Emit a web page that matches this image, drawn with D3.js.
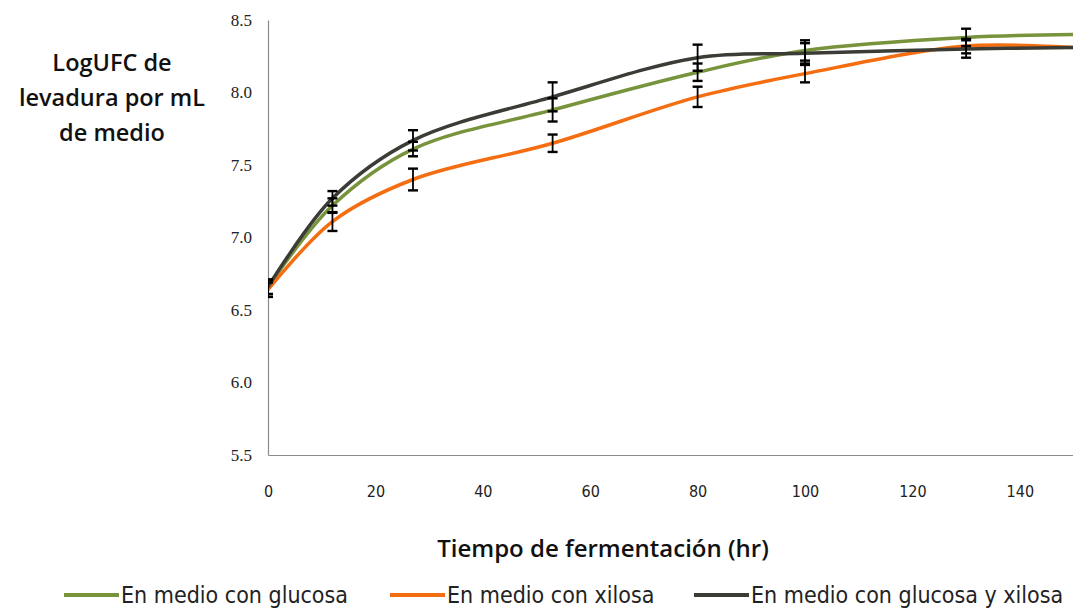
<!DOCTYPE html>
<html>
<head>
<meta charset="utf-8">
<script src="https://cdn.jsdelivr.net/npm/d3@7"></script>
<style>
  html, body { margin: 0; padding: 0; background: #fff; }
  svg { display: block; }
</style>
</head>
<body>
<svg id="chart" width="1073" height="608"></svg>
<script>
// Fermentation time (hr)
const tiempo = [0, 12, 27, 53, 80, 100, 130, 150];

// Log CFU of yeast per mL of medium, per medium
const glucosa       = [6.66, 7.22, 7.61, 7.88, 8.14, 8.29, 8.38, 8.40];
const xilosa        = [6.64, 7.11, 7.40, 7.65, 7.97, 8.13, 8.32, 8.31];
const glucosaXilosa = [6.66, 7.27, 7.67, 7.97, 8.24, 8.27, 8.30, 8.31];

// Standard deviation bars (none shown for the last sample)
const errGlucosa       = [0.05, 0.05, 0.05, 0.08, 0.06, 0.07, 0.06, null];
const errXilosa        = [0.05, 0.065, 0.075, 0.06, 0.07, 0.06, 0.05, null];
const errGlucosaXilosa = [0.05, 0.05, 0.07, 0.10, 0.09, 0.07, 0.06, null];

const yTicks = [5.5, 6.0, 6.5, 7.0, 7.5, 8.0, 8.5];
const xTicks = [0, 20, 40, 60, 80, 100, 120, 140];

const seriesNames = ["En medio con glucosa", "En medio con xilosa", "En medio con glucosa y xilosa"];
const seriesColors = ["#77933c", "#f46d10", "#3c3c36"];

const series = [
  { name: seriesNames[0], color: seriesColors[0], values: glucosa, err: errGlucosa },
  { name: seriesNames[1], color: seriesColors[1], values: xilosa, err: errXilosa },
  { name: seriesNames[2], color: seriesColors[2], values: glucosaXilosa, err: errGlucosaXilosa }
];

const svg = d3.select("#chart");
const plotLeft = 268, plotRight = 1073.5, plotTop = 20, plotBottom = 455;

const x = d3.scaleLinear().domain([0, 150]).range([plotLeft, plotRight]);
const y = d3.scaleLinear().domain([5.5, 8.5]).range([plotBottom, plotTop]);

svg.append("defs").append("clipPath").attr("id", "plot")
  .append("rect").attr("x", plotLeft).attr("y", 0).attr("width", plotRight - plotLeft).attr("height", plotBottom);

// Axes
const yAxis = svg.append("g").attr("transform", `translate(${plotLeft},0)`)
  .call(d3.axisLeft(y).tickValues(yTicks).tickFormat(d3.format(".1f")).tickSize(0).tickPadding(16));
yAxis.select(".domain").attr("stroke", "#8c8c8c").attr("stroke-width", 1.2);
yAxis.selectAll("text").attr("font-family", "'Liberation Serif', serif").attr("font-size", 17).attr("fill", "#222");

const xAxis = svg.append("g").attr("transform", `translate(0,${plotBottom})`)
  .call(d3.axisBottom(x).tickValues(xTicks).tickFormat(d3.format("d")).tickSize(0).tickPadding(31));
xAxis.select(".domain").attr("stroke", "#8c8c8c").attr("stroke-width", 1.2);
xAxis.selectAll("text").attr("font-family", "'DejaVu Sans Condensed', 'Liberation Sans', sans-serif").attr("font-size", 16).attr("fill", "#222");

// Smoothed series lines
const line = d3.line()
  .x((d, i) => x(tiempo[i]))
  .y(d => y(d))
  .curve(d3.curveCatmullRom.alpha(0.5));

const plot = svg.append("g").attr("clip-path", "url(#plot)");

plot.selectAll("path.serie").data(series).join("path")
  .attr("class", "serie")
  .attr("d", s => line(s.values))
  .attr("fill", "none")
  .attr("stroke", s => s.color)
  .attr("stroke-width", 3.5)
  .attr("stroke-linecap", "round");

// Error bars
const capHalf = 5;
series.forEach(s => {
  const g = plot.append("g").attr("stroke", "#000").attr("stroke-width", 1.8);
  s.values.forEach((v, i) => {
    if (s.err[i] == null) return;
    const cx = x(tiempo[i]);
    const y0 = y(v - s.err[i]), y1 = y(v + s.err[i]);
    g.append("line").attr("x1", cx).attr("x2", cx).attr("y1", y0).attr("y2", y1);
    g.append("line").attr("x1", cx - capHalf).attr("x2", cx + capHalf).attr("y1", y0).attr("y2", y0).attr("stroke-width", 2.4);
    g.append("line").attr("x1", cx - capHalf).attr("x2", cx + capHalf).attr("y1", y1).attr("y2", y1).attr("stroke-width", 2.4);
  });
});

// Axis titles
const titleFont = "'Open Sans', sans-serif";
svg.append("text")
  .attr("x", 603).attr("y", 557)
  .attr("text-anchor", "middle")
  .attr("font-family", titleFont).attr("font-weight", 600).attr("font-size", 24)
  .attr("fill", "#111")
  .text("Tiempo de fermentación (hr)");

const yTitle = svg.append("text")
  .attr("text-anchor", "middle")
  .attr("font-family", titleFont).attr("font-weight", 600).attr("font-size", 23.5)
  .attr("fill", "#111");
["LogUFC de", "levadura por mL", "de medio"].forEach((t, i) => {
  yTitle.append("tspan").attr("x", 112).attr("y", 71 + i * 35).text(t);
});

// Legend
const legendX = [64, 390, 694];
const legend = svg.append("g");
series.forEach((s, i) => {
  const g = legend.append("g").attr("transform", `translate(${legendX[i]},595)`);
  g.append("line").attr("x1", 0).attr("x2", 55).attr("y1", 0).attr("y2", 0)
    .attr("stroke", s.color).attr("stroke-width", 4);
  g.append("text").attr("x", 57).attr("y", 8)
    .attr("font-family", "'DejaVu Sans Condensed', 'Liberation Sans', sans-serif")
    .attr("font-size", 23).attr("fill", "#222")
    .text(s.name);
});
</script>
</body>
</html>
